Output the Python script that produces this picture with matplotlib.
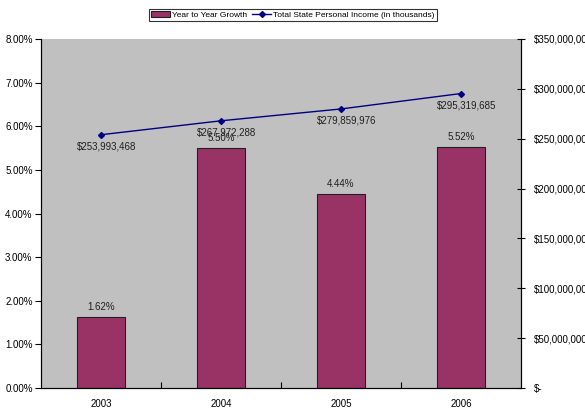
import matplotlib
matplotlib.use("Agg")
import matplotlib.pyplot as plt
from matplotlib.ticker import FuncFormatter, MultipleLocator

plt.rcParams['font.family'] = ['Liberation Sans', 'DejaVu Sans']

years = ["2003", "2004", "2005", "2006"]
growth = [1.62, 5.50, 4.44, 5.52]  # percent
income = [253993468, 267972288, 279859976, 295319685]
growth_labels = ["1.62%", "5.50%", "4.44%", "5.52%"]
income_labels = ["$253,993,468", "$267,972,288", "$279,859,976", "$295,319,685"]

fig = plt.figure(figsize=(5.85, 4.09), dpi=100)
ax = fig.add_axes([41/585, 1-388/409, 480/585, 349/409])
ax.set_facecolor('#C0C0C0')
x = list(range(len(years)))
bars = ax.bar(x, growth, width=0.4, color='#993366', edgecolor='#202020', linewidth=0.8,
              label='Year to Year Growth', zorder=2)
ax.set_xlim(-0.5, 3.5)
ax.set_ylim(0, 8)
ax.yaxis.set_major_locator(MultipleLocator(1))
ax.yaxis.set_major_formatter(FuncFormatter(lambda v, p: f"{v:.2f}%"))
ax.set_xticks(x)
ax.set_xticklabels(years)
ax.set_xticks([0.5, 1.5, 2.5], minor=True)
ax.tick_params(axis='x', which='major', length=0, labelsize=7, pad=8)
ax.tick_params(axis='x', which='minor', length=4, direction='in', width=0.8)
ax.tick_params(axis='y', labelsize=7, length=4, direction='out', width=0.8, pad=2)
for b, lab in zip(bars, growth_labels):
    ax.annotate(lab, (b.get_x() + b.get_width()/2, b.get_height()), xytext=(0, 4),
                textcoords='offset points', ha='center', va='bottom', fontsize=7, color='#202020')
ax.spines['top'].set_visible(False)
for s in ['left', 'bottom', 'right']:
    ax.spines[s].set_linewidth(0.8)

ax2 = ax.twinx()
line, = ax2.plot(x, income, color='#000080', marker='D', markersize=3, linewidth=1,
                 label='Total State Personal Income (in thousands)', zorder=3)
ax2.set_ylim(0, 350000000)
ax2.yaxis.set_major_locator(MultipleLocator(50000000))
ax2.yaxis.set_major_formatter(FuncFormatter(lambda v, p: "$-" if v == 0 else f"${v:,.0f}"))
ax2.tick_params(axis='y', labelsize=7, length=6, direction='inout', width=0.8, pad=6)
ax2.spines['top'].set_visible(False)
ax2.spines['right'].set_linewidth(0.8)
for xi, v, lab in zip(x, income, income_labels):
    ax2.annotate(lab, (xi, v), xytext=(4, -5), textcoords='offset points',
                 ha='center', va='top', fontsize=7, color='#202020')

handles = [bars, line]
leg = fig.legend(handles, [h.get_label() for h in handles], loc='center',
                 bbox_to_anchor=(293/585, 1-15/409), ncol=2, fontsize=6,
                 frameon=True, fancybox=False, edgecolor='black', handlelength=2.2,
                 handletextpad=0.3, columnspacing=0.6, borderpad=0.25)
leg.get_frame().set_linewidth(0.8)

fig.savefig('out.png', dpi=100)
